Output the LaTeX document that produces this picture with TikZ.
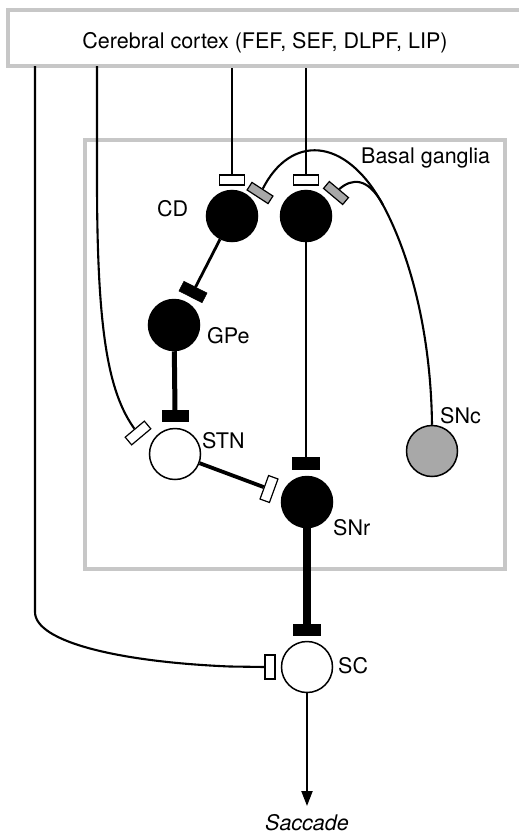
\documentclass[tikz,border=0pt]{standalone}
\usepackage{fontspec}
\setmainfont{TeX Gyre Heros}
\usetikzlibrary{arrows.meta}
\definecolor{boxgray}{gray}{0.78}
\definecolor{dagray}{gray}{0.66}
\tikzset{
  lbl/.style={font=\fontsize{21.5}{23}\selectfont, inner sep=0pt, anchor=base west},
  region/.style={draw=boxgray, line width=4pt, fill=white},
  blackneuron/.style={circle, draw=black, fill=black, line width=1.5pt, minimum size=51pt, inner sep=0pt},
  whiteneuron/.style={circle, draw=black, fill=white, line width=1.5pt, minimum size=51pt, inner sep=0pt},
  grayneuron/.style={circle, draw=black, fill=dagray, line width=1.5pt, minimum size=51pt, inner sep=0pt},
  excsyn/.style={draw=black, fill=white, line width=1.2pt, minimum width=25pt, minimum height=10pt, inner sep=0pt},
  inhsyn/.style={draw=black, fill=black, minimum width=26pt, minimum height=11pt, inner sep=0pt},
  dasyn/.style={draw=black, fill=dagray, line width=1.2pt, minimum width=25pt, minimum height=9pt, inner sep=0pt},
  fiber/.style={line width=2.1pt},
}
\begin{document}
\begin{tikzpicture}[x=1pt,y=-1pt]
\useasboundingbox (0,0) rectangle (519,835);
% regions
\node[region, minimum width=530pt, minimum height=56pt, inner sep=0pt] (ctx) at (273,38) {};
\node[lbl, anchor=base] (ctxlbl) at (265,48) {Cerebral cortex (FEF, SEF, DLPF, LIP)};
\node[region, fill=none, minimum width=420pt, minimum height=429pt, inner sep=0pt] (bg) at (295,354.5) {};
\node[lbl] (bglbl) at (361,163) {Basal ganglia};

% neurons
\node[blackneuron] (CD1) at (232,216) {};
\node[blackneuron] (CD2) at (306,216) {};
\node[blackneuron] (GPe) at (174,325) {};
\node[whiteneuron] (STN) at (175,454) {};
\node[blackneuron] (SNr) at (307,502) {};
\node[grayneuron] (SNc) at (432,451) {};
\node[whiteneuron] (SC) at (307,667) {};

% labels
\node[lbl] (CDl) at (157,216) {CD};
\node[lbl] (GPel) at (207,343) {GPe};
\node[lbl] (STNl) at (202,448) {STN};
\node[lbl] (SNrl) at (333,535) {SNr};
\node[lbl] (SNcl) at (440,423) {SNc};
\node[lbl] (SCl) at (338,673) {SC};
\node[lbl, anchor=base, font=\fontsize{21.5}{23}\selectfont\itshape] (sacc) at (307,830) {Saccade};

% synapses
\node[excsyn] (eCD1) at (232,180) {};
\node[excsyn] (eCD2) at (306,180) {};
\node[dasyn, rotate=-33] (dCD1) at (260,193) {};
\node[dasyn, rotate=-40] (dCD2) at (336,193) {};
\node[inhsyn, rotate=-27] (iGPe) at (193,292) {};
\node[inhsyn] (iSTN) at (175,416) {};
\node[excsyn, rotate=40] (eSTN) at (138,433) {};
\node[excsyn, rotate=70] (eSNr) at (269,489) {};
\node[inhsyn, minimum width=27pt, minimum height=12pt] (iSNr) at (306,463) {};
\node[inhsyn, minimum width=27pt] (iSC) at (307,630) {};
\node[excsyn, minimum width=10pt, minimum height=24pt] (eSC) at (270,667) {};

% cortical fibres
\coordinate (c1) at (35,66);
\coordinate (c2) at (97,66);
\draw[fiber] (c1) -- (35,612) .. controls (35,642) and (120,662) .. (230,666.5) -- (eSC.west);
\draw[fiber] (c2) -- (97,180) .. controls (97,330) and (108,392) .. (eSTN.north);
\draw[fiber] (eCD1.north |- ctx.south) -- (eCD1.north);
\draw[fiber] (eCD2.north |- ctx.south) -- (eCD2.north);

% nigrostriatal fibres
\coordinate (merge) at (383,205);
\draw[fiber] (dCD1.north) .. controls (290,135) and (345,135) .. (merge)
  .. controls (413,261) and (431,340) .. (SNc.north);
\draw[fiber] (dCD2.north) .. controls (352,178) and (368,177) .. (merge);

% basal ganglia connections
\draw[line width=2.8pt] (CD1) -- (iGPe.north);
\draw[line width=5pt] (GPe) -- (iSTN.north);
\draw[line width=3.8pt] (STN) -- (eSNr.north);
\draw[fiber] (CD2) -- (iSNr.north);
\draw[line width=8pt] (SNr) -- (iSC.north);
\draw[fiber, -{Triangle[length=15pt,width=11pt]}] (SC) -- (307,806);
\end{tikzpicture}
\end{document}
